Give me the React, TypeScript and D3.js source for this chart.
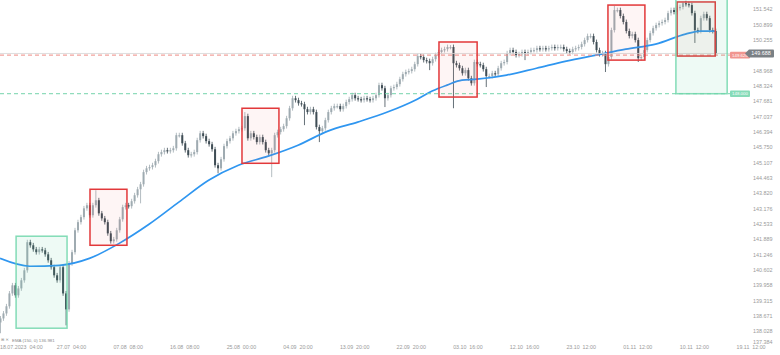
import React from 'react';
import { useRef, useEffect } from 'react';
import * as d3 from 'd3';

// closes, one per bar (4h-ish bars)
const closes = [
  138.57, 138.78, 139.08, 139.62, 139.96, 139.54, 139.83, 140.17, 140.59, 141.77,
  141.64, 141.47, 141.35, 141.47, 141.43, 141.26, 141.01, 140.72, 140.38, 140.17,
  140.72, 139.62, 138.95, 140.88, 141.35, 142.27, 142.61, 142.82, 143.19, 143.32,
  142.9, 143.32, 143.53, 142.98, 142.77, 142.61, 142.14, 141.81, 141.89, 142.27,
  142.73, 143.24, 143.32, 143.28, 143.49, 143.74, 143.99, 144.2, 144.71, 144.87,
  144.92, 145.0, 145.17, 145.46, 145.55, 145.63, 145.59, 145.63, 145.71, 146.26,
  146.26, 145.92, 145.63, 145.42, 145.46, 145.55, 146.05, 146.34, 146.22, 146.01,
  145.88, 145.67, 145.0, 144.87, 145.25, 145.8, 146.01, 146.13, 146.34, 146.43,
  146.51, 146.55, 147.06, 146.13, 146.34, 146.18, 145.97, 146.18, 145.97, 145.63,
  145.5, 145.63, 146.26, 146.39, 146.51, 146.64, 146.97, 147.39, 147.81, 147.73,
  147.6, 147.56, 147.35, 147.23, 147.35, 147.23, 146.6, 146.43, 146.55, 146.89,
  147.23, 147.39, 147.48, 147.48, 147.35, 147.48, 147.65, 147.77, 147.94, 147.81,
  147.77, 147.73, 147.81, 147.77, 147.73, 147.81, 147.94, 148.36, 148.23, 147.81,
  147.94, 148.23, 148.28, 148.4, 148.61, 148.82, 148.91, 148.95, 149.03, 149.24,
  149.58, 149.54, 149.41, 149.37, 149.28, 149.45, 149.62, 149.75, 149.83, 149.87,
  149.96, 149.96, 149.28, 149.2, 149.07, 148.86, 148.99, 148.65, 148.44, 149.33,
  149.24, 149.2, 149.03, 148.74, 148.74, 148.86, 148.82, 149.07, 149.28, 149.33,
  149.7, 149.83, 149.75, 149.62, 149.66, 149.75, 149.7, 149.75, 149.83, 149.83,
  149.91, 149.87, 149.91, 149.87, 149.91, 149.96, 149.91, 149.96, 149.96, 149.87,
  149.79, 149.75, 149.87, 149.91, 149.96, 150.08, 150.25, 150.42, 150.42, 150.17,
  149.83, 149.66, 149.7, 149.24, 149.54, 150.67, 151.51, 151.51, 151.26, 151.01,
  150.63, 150.42, 150.5, 150.25, 149.49, 149.54, 149.83, 150.25, 150.54, 150.75,
  150.88, 150.96, 151.01, 151.09, 151.38, 151.51, 151.43, 151.59, 151.64, 151.8,
  151.76, 151.72, 151.38, 150.67, 150.63, 151.17, 151.34, 151.17, 150.67, 150.63,
  149.688,
];
const firstOpen = 138.4;

// long wicks [bar, price]
const highWicks = [[32, 143.95], [82, 147.23], [151, 150.04], [206, 151.68], [229, 151.85]];
const lowWicks = [
  [0, 137.95], [22, 138.28], [47, 143.4], [73, 144.66], [91, 144.5], [102, 146.68],
  [107, 145.97], [129, 147.44], [144, 148.99], [152, 147.39], [163, 148.28],
  [176, 149.41], [203, 148.91], [214, 149.33], [233, 150.13],
];

// EMA
const emaBars = [0, 10, 20, 30, 40, 50, 60, 70, 80, 90, 100, 110, 120, 130, 140, 145, 150, 155, 160, 170, 180, 190, 200, 210, 220, 230, 235, 240];
const emaVals = [141.09, 140.76, 140.8, 141.09, 141.72, 142.52, 143.45, 144.37, 145.0, 145.38, 145.84, 146.43, 146.81, 147.23, 147.77, 148.11, 148.36, 148.57, 148.61, 148.78, 149.07, 149.37, 149.62, 149.87, 150.08, 150.5, 150.63, 150.63];

const priceTicks = [151.542, 150.899, 150.255, 148.968, 148.324, 147.681, 147.037, 146.394, 145.75, 145.107, 144.463, 143.82, 143.176, 142.533, 141.889, 141.246, 140.602, 139.958, 139.315, 138.671, 138.028, 137.384];
const lastPrice = 149.688;
const redLevel = 149.62;
const greenLevel = 148.0;

const dateLabels = ['18.07.2023  04:00', '27.07  04:00', '07.08  08:00', '16.08  08:00', '25.08  00:00', '04.09  20:00', '13.09  20:00', '22.09  20:00', '03.10  16:00', '12.10  16:00', '23.10  12:00', '01.11  12:00', '10.11  12:00', '19.11  12:00'];
const dateBars = [0, 24, 43, 62, 81, 100, 119, 138, 157, 176, 195, 214, 233, 252];

// rectangles: [kind, startBar, endBar, topPrice, bottomPrice]
const boxes: [string, number, number, number, number][] = [
  ['green', 5.4, 22.5, 142.02, 138.16],
  ['red', 30.2, 42.6, 143.99, 141.64],
  ['red', 81.2, 93.6, 147.39, 145.08],
  ['red', 147.3, 160.1, 150.17, 147.86],
  ['red', 204, 216.4, 151.72, 149.41],
  ['red', 227.2, 240, 151.85, 149.58],
  ['green', 226.8, 244, 151.98, 148.0],
];

export default function App() {
  const svgRef = useRef<SVGSVGElement>(null);

  useEffect(() => {
    const w = 780;
    const h = 355;
    const svg = d3.select(svgRef.current);
    svg.selectAll('*').remove();

    const x = d3.scaleLinear().domain([0, 252]).range([0, 751]);
    const y = d3.scaleLinear().domain([137.384, 151.542]).range([346.7, 9.3]);
    const plotRight = 727;
    const font = 'Liberation Sans, Arial, sans-serif';

    // candles
    const candles = closes.map((c, i) => {
      const o = i === 0 ? firstOpen : closes[i - 1];
      const hw = highWicks.find((d) => d[0] === i);
      const lw = lowWicks.find((d) => d[0] === i);
      return { i, o, c, hi: hw ? hw[1] : null, lo: lw ? lw[1] : null };
    });
    const g = svg.append('g');
    const upCol = '#9fabb1';
    const downCol = '#3f4d55';
    g.selectAll('line.wick')
      .data(candles)
      .join('line')
      .attr('x1', (d) => x(d.i) + 0.5)
      .attr('x2', (d) => x(d.i) + 0.5)
      .attr('y1', (d) => (d.hi !== null ? y(d.hi) : y(Math.max(d.o, d.c)) - 2.4))
      .attr('y2', (d) => (d.lo !== null ? y(d.lo) : y(Math.min(d.o, d.c)) + 2.4))
      .attr('stroke', (d) => (d.c >= d.o ? upCol : downCol))
      .attr('stroke-width', 0.8);
    g.selectAll('rect.body')
      .data(candles)
      .join('rect')
      .attr('x', (d) => x(d.i) - 0.5)
      .attr('width', 2)
      .attr('y', (d) => y(Math.max(d.o, d.c)))
      .attr('height', (d) => Math.max(1.2, Math.abs(y(d.o) - y(d.c))))
      .attr('fill', (d) => (d.c >= d.o ? upCol : downCol));

    // EMA
    const line = d3
      .line<number>()
      .x((d, i) => x(emaBars[i]))
      .y((d) => y(d))
      .curve(d3.curveMonotoneX);
    svg
      .append('path')
      .attr('d', line(emaVals))
      .attr('fill', 'none')
      .attr('stroke', '#2f96f0')
      .attr('stroke-width', 1.7);

    // current price line + levels
    svg
      .append('line')
      .attr('x1', 0)
      .attr('x2', plotRight + 18)
      .attr('y1', y(lastPrice))
      .attr('y2', y(lastPrice))
      .attr('stroke', '#d6d6d6')
      .attr('stroke-width', 0.8);
    [
      [redLevel, '#ee8a84'],
      [greenLevel, '#74d3ab'],
    ].forEach(([v, col]) => {
      svg
        .append('line')
        .attr('x1', 0)
        .attr('x2', plotRight + 3)
        .attr('y1', y(v as number))
        .attr('y2', y(v as number))
        .attr('stroke', col as string)
        .attr('stroke-width', 1)
        .attr('stroke-dasharray', '4,3');
    });

    // rectangles
    svg
      .selectAll('rect.box')
      .data(boxes)
      .join('rect')
      .attr('x', (d) => x(d[1]))
      .attr('width', (d) => x(d[2]) - x(d[1]))
      .attr('y', (d) => y(d[3]))
      .attr('height', (d) => y(d[4]) - y(d[3]))
      .attr('fill', (d) => (d[0] === 'red' ? 'rgba(235,80,80,0.06)' : 'rgba(90,205,160,0.10)'))
      .attr('stroke', (d) => (d[0] === 'red' ? '#e2383a' : 'rgba(110,214,170,0.85)'))
      .attr('stroke-width', 1.5);

    // price axis
    svg
      .selectAll('text.tick')
      .data(priceTicks)
      .join('text')
      .attr('x', 753)
      .attr('y', (d) => Math.min(y(d), 342.5))
      .attr('dy', '0.35em')
      .attr('font-family', font)
      .attr('font-size', 5.4)
      .attr('fill', '#9a9a9a')
      .text((d) => d.toFixed(3));

    // level labels
    [
      [redLevel, '#f19690'],
      [greenLevel, '#86dbb8'],
    ].forEach(([v, col]) => {
      const yy = y(v as number);
      svg
        .append('rect')
        .attr('x', 730)
        .attr('y', yy - 3.3)
        .attr('width', 20)
        .attr('height', 6.6)
        .attr('rx', 1)
        .attr('fill', col as string);
      svg
        .append('text')
        .attr('x', 740)
        .attr('y', yy)
        .attr('dy', '0.35em')
        .attr('text-anchor', 'middle')
        .attr('font-family', font)
        .attr('font-size', 4.4)
        .attr('fill', '#fff')
        .text((v as number).toFixed(3));
    });

    // current price tag
    const ly = y(lastPrice);
    svg
      .append('path')
      .attr('d', `M745,${ly} L749,${ly - 4} L773,${ly - 4} Q774,${ly - 4} 774,${ly - 3} L774,${ly + 3} Q774,${ly + 4} 773,${ly + 4} L749,${ly + 4} Z`)
      .attr('fill', '#7a8085');
    svg
      .append('text')
      .attr('x', 761)
      .attr('y', ly)
      .attr('dy', '0.35em')
      .attr('text-anchor', 'middle')
      .attr('font-family', font)
      .attr('font-size', 5.4)
      .attr('fill', '#fff')
      .text(lastPrice.toFixed(3));

    // date axis
    svg
      .selectAll('text.date')
      .data(dateLabels)
      .join('text')
      .attr('x', (d, i) => (i === 0 ? 0 : x(dateBars[i])))
      .attr('y', 349)
      .attr('text-anchor', (d, i) => (i === 0 ? 'start' : 'middle'))
      .attr('font-family', font)
      .attr('font-size', 5.3)
      .attr('fill', '#9a9a9a')
      .style('white-space', 'pre')
      .text((d) => d);

    // indicator legend
    svg
      .append('text')
      .attr('x', 1)
      .attr('y', 341)
      .attr('font-family', 'DejaVu Sans, sans-serif')
      .attr('font-size', 4)
      .attr('fill', '#8a8a8a')
      .text('⊞ ✕');
    svg
      .append('text')
      .attr('x', 12)
      .attr('y', 342)
      .attr('font-family', font)
      .attr('font-size', 4.4)
      .attr('fill', '#8a8a8a')
      .text('EMA (150, 0) 136.981');

    svg.attr('width', w).attr('height', h);
  }, []);

  return (
    <svg
      ref={svgRef}
      width={780}
      height={355}
      style={{ position: 'absolute', left: 0, top: 0, background: '#fff' }}
    ></svg>
  );
}
